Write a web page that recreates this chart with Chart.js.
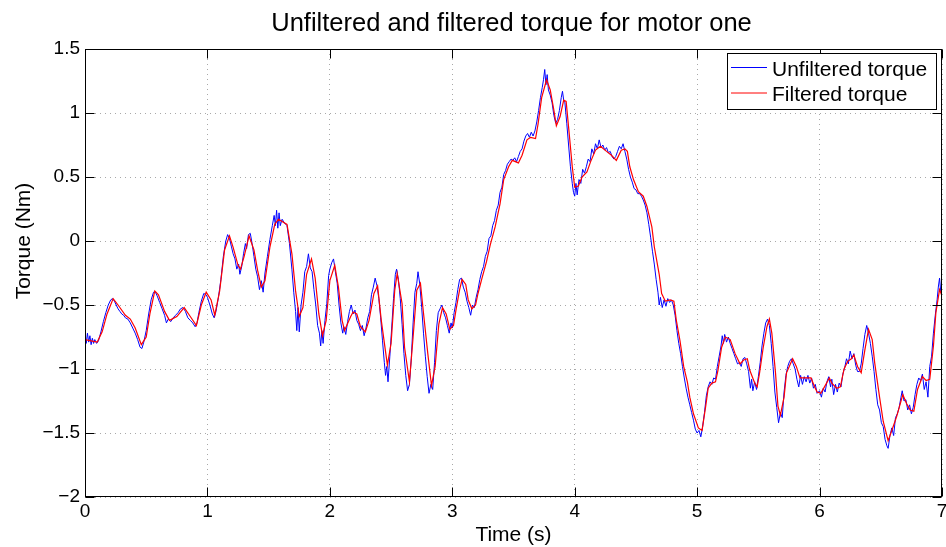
<!DOCTYPE html>
<html>
<head>
<meta charset="utf-8">
<title>Torque, motor one</title>
<script src="https://cdn.jsdelivr.net/npm/chart.js@4.4.1/dist/chart.umd.min.js"></script>
<style>
html, body { margin: 0; padding: 0; background: #fff; }
canvas { display: block; }
</style>
</head>
<body>
<canvas id="chartTorque" width="946" height="547"></canvas>
<script>
const seriesNames = ['Unfiltered torque', 'Filtered torque'];
const xTicks = [0, 1, 2, 3, 4, 5, 6, 7];
const yTicks = [-2, -1.5, -1, -0.5, 0, 0.5, 1, 1.5];

// raw sensor torque (s, Nm), one line per second
const rawTime = [
    0,0.01,0.02,0.03,0.04,0.05,0.06,0.07,0.08,0.095,0.11,0.13,0.15,0.17,0.19,0.21,0.225,0.24,0.255,0.27,0.285,0.30,0.315,0.33,0.35,0.37,0.39,0.41,0.43,0.45,0.465,0.48,0.50,0.52,0.54,0.56,0.575,0.59,0.61,0.63,0.65,0.665,0.68,0.70,0.72,0.74,0.76,0.78,0.80,0.82,0.84,0.86,0.88,0.90,0.915,0.93,0.95,0.97,0.99,
    1.00,1.02,1.04,1.055,1.07,1.09,1.11,1.13,1.15,1.165,1.18,1.195,1.21,1.225,1.24,1.255,1.265,1.28,1.295,1.31,1.32,1.335,1.35,1.365,1.38,1.395,1.41,1.425,1.44,1.455,1.47,1.49,1.51,1.53,1.545,1.555,1.565,1.575,1.585,1.595,1.61,1.63,1.65,1.67,1.69,1.705,1.72,1.73,1.74,1.75,1.765,1.78,1.795,1.81,1.825,1.84,1.855,1.87,1.885,1.90,1.915,1.925,1.935,1.945,1.96,1.975,1.99,
    2.00,2.015,2.03,2.045,2.06,2.075,2.09,2.105,2.115,2.13,2.145,2.16,2.175,2.19,2.205,2.22,2.235,2.25,2.265,2.28,2.295,2.31,2.325,2.34,2.355,2.37,2.385,2.40,2.415,2.43,2.445,2.455,2.465,2.475,2.49,2.505,2.52,2.535,2.545,2.56,2.575,2.59,2.605,2.62,2.635,2.65,2.665,2.68,2.695,2.71,2.72,2.735,2.75,2.765,2.78,2.795,2.81,2.825,2.84,2.855,2.87,2.885,2.90,2.915,2.93,2.945,2.96,2.975,2.99,
    3.00,3.015,3.03,3.045,3.06,3.075,3.09,3.105,3.12,3.135,3.15,3.165,3.18,3.195,3.21,3.225,3.24,3.255,3.27,3.285,3.30,3.315,3.33,3.345,3.36,3.375,3.39,3.405,3.42,3.435,3.45,3.465,3.48,3.495,3.51,3.525,3.54,3.555,3.57,3.585,3.60,3.615,3.63,3.645,3.66,3.675,3.69,3.705,3.72,3.735,3.745,3.755,3.765,3.775,3.785,3.80,3.815,3.83,3.845,3.86,3.875,3.89,3.90,3.91,3.92,3.935,3.95,3.965,3.98,3.99,
    4.00,4.01,4.02,4.035,4.05,4.065,4.08,4.095,4.11,4.125,4.14,4.155,4.17,4.185,4.20,4.215,4.23,4.245,4.26,4.275,4.29,4.305,4.32,4.335,4.35,4.365,4.38,4.395,4.41,4.425,4.44,4.455,4.47,4.485,4.50,4.515,4.53,4.545,4.56,4.575,4.59,4.605,4.62,4.635,4.65,4.665,4.68,4.69,4.70,4.715,4.73,4.745,4.76,4.775,4.79,4.805,4.82,4.835,4.85,4.865,4.88,4.895,4.91,4.925,4.94,4.955,4.97,4.985,
    5.00,5.015,5.03,5.045,5.06,5.075,5.09,5.105,5.12,5.135,5.15,5.165,5.18,5.195,5.205,5.215,5.225,5.24,5.255,5.27,5.285,5.30,5.315,5.33,5.345,5.36,5.375,5.39,5.405,5.42,5.435,5.445,5.455,5.47,5.485,5.50,5.515,5.53,5.545,5.56,5.575,5.59,5.605,5.62,5.635,5.65,5.665,5.68,5.695,5.71,5.725,5.74,5.755,5.77,5.785,5.80,5.815,5.83,5.845,5.86,5.875,5.89,5.905,5.92,5.935,5.95,5.965,5.98,
    6.00,6.015,6.03,6.045,6.06,6.075,6.09,6.10,6.115,6.13,6.145,6.16,6.175,6.19,6.205,6.22,6.235,6.25,6.265,6.28,6.295,6.31,6.325,6.34,6.355,6.37,6.385,6.40,6.415,6.43,6.445,6.46,6.475,6.49,6.505,6.52,6.535,6.55,6.56,6.575,6.59,6.605,6.62,6.635,6.65,6.665,6.675,6.69,6.705,6.72,6.735,6.75,6.765,6.78,6.795,6.81,6.825,6.84,6.855,6.87,6.885,6.90,6.915,6.93,6.945,6.96,6.97,6.98,6.99,7.00
];
const rawTorque = [
    -0.74,-0.80,-0.72,-0.79,-0.74,-0.81,-0.76,-0.80,-0.77,-0.80,-0.78,-0.71,-0.63,-0.56,-0.50,-0.46,-0.45,-0.47,-0.50,-0.53,-0.55,-0.57,-0.58,-0.60,-0.61,-0.64,-0.68,-0.72,-0.77,-0.83,-0.84,-0.79,-0.70,-0.57,-0.46,-0.40,-0.40,-0.43,-0.48,-0.53,-0.58,-0.64,-0.61,-0.63,-0.60,-0.58,-0.56,-0.53,-0.52,-0.55,-0.60,-0.62,-0.64,-0.67,-0.64,-0.56,-0.47,-0.41,-0.42,
    -0.44,-0.50,-0.57,-0.60,-0.55,-0.44,-0.30,-0.12,0.00,0.05,0.02,-0.04,-0.10,-0.14,-0.22,-0.18,-0.26,-0.20,-0.10,-0.02,-0.06,0.05,0.06,-0.02,-0.12,-0.22,-0.28,-0.38,-0.31,-0.40,-0.25,-0.12,0.01,0.12,0.20,0.12,0.24,0.10,0.22,0.12,0.17,0.14,0.12,-0.02,-0.22,-0.40,-0.55,-0.70,-0.52,-0.71,-0.50,-0.40,-0.24,-0.20,-0.10,-0.21,-0.24,-0.38,-0.50,-0.66,-0.72,-0.82,-0.70,-0.80,-0.62,-0.49,-0.27,
    -0.22,-0.17,-0.14,-0.24,-0.33,-0.50,-0.64,-0.72,-0.67,-0.73,-0.63,-0.55,-0.50,-0.57,-0.54,-0.62,-0.65,-0.70,-0.66,-0.74,-0.68,-0.60,-0.55,-0.42,-0.36,-0.29,-0.35,-0.45,-0.60,-0.78,-0.95,-1.05,-0.98,-1.10,-0.90,-0.68,-0.45,-0.26,-0.22,-0.30,-0.45,-0.65,-0.88,-1.05,-1.17,-1.12,-0.92,-0.64,-0.40,-0.33,-0.24,-0.34,-0.52,-0.72,-0.90,-1.06,-1.19,-1.12,-1.16,-0.95,-0.70,-0.56,-0.53,-0.50,-0.56,-0.60,-0.66,-0.72,-0.64,
    -0.68,-0.56,-0.48,-0.38,-0.30,-0.29,-0.36,-0.40,-0.47,-0.52,-0.58,-0.50,-0.52,-0.44,-0.38,-0.30,-0.24,-0.20,-0.12,-0.08,0.02,0.04,0.12,0.16,0.24,0.28,0.38,0.42,0.52,0.55,0.60,0.62,0.64,0.63,0.65,0.62,0.66,0.70,0.72,0.78,0.82,0.84,0.81,0.85,0.82,0.86,0.93,1.02,1.12,1.20,1.26,1.34,1.22,1.30,1.18,1.14,1.08,0.98,0.92,0.95,1.02,1.12,1.17,1.10,1.08,0.92,0.75,0.58,0.45,0.38,
    0.35,0.45,0.36,0.48,0.45,0.56,0.53,0.58,0.64,0.62,0.72,0.68,0.76,0.72,0.79,0.73,0.75,0.71,0.73,0.69,0.70,0.66,0.64,0.66,0.70,0.74,0.72,0.76,0.70,0.64,0.56,0.50,0.46,0.41,0.40,0.37,0.37,0.35,0.32,0.28,0.22,0.13,0.03,-0.08,-0.18,-0.30,-0.40,-0.50,-0.44,-0.52,-0.46,-0.51,-0.45,-0.48,-0.46,-0.50,-0.58,-0.70,-0.80,-0.88,-0.98,-1.07,-1.15,-1.22,-1.28,-1.34,-1.40,-1.47,
    -1.50,-1.48,-1.53,-1.45,-1.34,-1.21,-1.14,-1.10,-1.12,-1.07,-1.08,-0.98,-0.90,-0.82,-0.74,-0.80,-0.73,-0.79,-0.75,-0.80,-0.84,-0.88,-0.92,-0.96,-0.95,-0.98,-0.92,-0.91,-0.96,-1.02,-1.15,-1.08,-1.17,-1.10,-1.16,-1.06,-0.95,-0.82,-0.72,-0.64,-0.61,-0.66,-0.80,-0.98,-1.18,-1.30,-1.42,-1.34,-1.38,-1.18,-1.05,-0.98,-0.94,-0.92,-0.96,-1.00,-1.08,-1.14,-1.05,-1.12,-1.06,-1.10,-1.05,-1.11,-1.07,-1.15,-1.12,-1.19,
    -1.17,-1.22,-1.15,-1.18,-1.10,-1.06,-1.14,-1.08,-1.20,-1.12,-1.18,-1.11,-1.14,-1.04,-0.99,-0.92,-0.96,-0.86,-0.92,-0.88,-0.97,-1.02,-1.02,-0.96,-0.84,-0.73,-0.66,-0.72,-0.80,-0.90,-1.02,-1.16,-1.28,-1.32,-1.42,-1.45,-1.55,-1.60,-1.62,-1.52,-1.46,-1.52,-1.38,-1.35,-1.30,-1.22,-1.17,-1.25,-1.24,-1.32,-1.28,-1.35,-1.30,-1.20,-1.12,-1.07,-1.09,-1.04,-1.16,-1.10,-1.22,-0.98,-0.90,-0.72,-0.58,-0.46,-0.36,-0.29,-0.40,-0.36
];

// low-pass filtered torque (s, Nm)
const filteredTime = [
    0.00,0.05,0.10,0.14,0.18,0.23,0.27,0.33,0.37,0.41,0.46,0.50,0.53,0.57,0.60,0.65,0.69,0.75,0.81,0.86,0.91,0.95,0.99,
    1.03,1.06,1.10,1.14,1.18,1.21,1.25,1.27,1.30,1.34,1.38,1.41,1.44,1.47,1.51,1.55,1.58,1.65,1.69,1.72,1.75,1.78,1.81,1.85,1.88,1.91,1.94,1.97,
    2.00,2.04,2.07,2.10,2.12,2.17,2.19,2.22,2.25,2.29,2.32,2.36,2.39,2.42,2.47,2.50,2.53,2.55,2.59,2.61,2.65,2.68,2.71,2.74,2.76,2.80,2.83,2.86,2.89,2.92,2.95,2.98,
    3.01,3.03,3.06,3.08,3.11,3.13,3.16,3.19,3.21,3.24,3.28,3.31,3.35,3.39,3.42,3.46,3.49,3.54,3.57,3.61,3.64,3.68,3.70,3.73,3.77,3.80,3.83,3.85,3.88,3.91,3.93,3.95,3.98,
    4.00,4.03,4.06,4.10,4.13,4.17,4.21,4.26,4.30,4.34,4.38,4.41,4.43,4.45,4.48,4.52,4.56,4.59,4.63,4.65,4.69,4.71,4.74,4.78,4.81,4.83,4.86,4.89,4.92,4.94,4.97,
    5.01,5.04,5.07,5.09,5.12,5.15,5.17,5.20,5.23,5.27,5.31,5.35,5.38,5.41,5.43,5.47,5.49,5.51,5.54,5.57,5.59,5.61,5.64,5.66,5.68,5.71,5.73,5.78,5.81,5.84,5.88,5.93,5.96,5.98,
    6.01,6.04,6.08,6.10,6.14,6.17,6.20,6.23,6.26,6.28,6.31,6.34,6.37,6.40,6.43,6.45,6.49,6.52,6.56,6.59,6.63,6.68,6.71,6.74,6.77,6.80,6.84,6.87,6.90,6.93,6.95,6.98,7.00
];
const filteredTorque = [
    -0.77,-0.78,-0.79,-0.71,-0.57,-0.45,-0.50,-0.58,-0.61,-0.68,-0.81,-0.75,-0.57,-0.39,-0.42,-0.55,-0.62,-0.59,-0.52,-0.59,-0.66,-0.50,-0.40,
    -0.46,-0.58,-0.39,-0.07,0.04,-0.05,-0.19,-0.22,-0.12,0.04,-0.07,-0.23,-0.36,-0.31,-0.05,0.13,0.17,0.13,-0.10,-0.39,-0.59,-0.52,-0.26,-0.14,-0.29,-0.57,-0.74,-0.62,
    -0.31,-0.19,-0.36,-0.62,-0.70,-0.59,-0.555,-0.57,-0.67,-0.71,-0.62,-0.41,-0.35,-0.62,-0.97,-0.80,-0.385,-0.255,-0.49,-0.83,-1.10,-0.75,-0.385,-0.33,-0.52,-0.88,-1.13,-0.98,-0.65,-0.52,-0.57,-0.69,
    -0.66,-0.54,-0.38,-0.30,-0.34,-0.46,-0.53,-0.50,-0.41,-0.30,-0.16,-0.03,0.11,0.29,0.48,0.58,0.63,0.61,0.67,0.79,0.81,0.80,0.91,1.12,1.26,1.18,1.02,0.90,0.97,1.10,1.09,0.89,0.58,
    0.42,0.43,0.50,0.54,0.62,0.71,0.74,0.70,0.67,0.63,0.71,0.72,0.70,0.58,0.48,0.385,0.35,0.27,0.11,-0.045,-0.26,-0.41,-0.47,-0.46,-0.47,-0.62,-0.78,-0.98,-1.10,-1.22,-1.35,
    -1.46,-1.48,-1.29,-1.15,-1.11,-1.10,-1.01,-0.83,-0.75,-0.77,-0.88,-0.96,-0.93,-0.92,-1.01,-1.11,-1.14,-1.03,-0.83,-0.67,-0.61,-0.72,-1.03,-1.29,-1.36,-1.22,-1.03,-0.92,-0.98,-1.07,-1.07,-1.07,-1.14,-1.18,
    -1.19,-1.14,-1.07,-1.11,-1.15,-1.14,-1.00,-0.94,-0.92,-0.89,-0.98,-1.03,-0.85,-0.69,-0.77,-0.95,-1.22,-1.41,-1.56,-1.48,-1.37,-1.20,-1.27,-1.32,-1.33,-1.16,-1.06,-1.09,-1.08,-0.82,-0.56,-0.38,-0.43
];

const FONT = "'Liberation Sans', Arial, Helvetica, sans-serif";
const TICK_LEN = 9;

function toPoints(xs, ys) {
    return xs.map((x, i) => ({ x: x, y: ys[i] }));
}

function minusSign(v) {
    return v < 0 ? '\u2212' + Math.abs(v) : String(v);
}

// box, inward tick marks, legend and labels drawn on top of the plot
const matlabAxes = {
    id: 'matlabAxes',
    afterDraw(chart) {
        const c = chart.ctx;
        const a = chart.chartArea;
        const xs = chart.scales.x, ys = chart.scales.y;
        const L = Math.round(a.left) + 0.5, R = Math.round(a.right) - 0.5;
        const T = Math.round(a.top) + 0.5, B = Math.round(a.bottom) - 0.5;
        c.save();
        c.strokeStyle = '#000';
        c.lineWidth = 1;
        c.beginPath();
        xTicks.forEach(v => {
            const px = Math.round(xs.getPixelForValue(v)) + 0.5;
            c.moveTo(px, B); c.lineTo(px, B - TICK_LEN);
            c.moveTo(px, T); c.lineTo(px, T + TICK_LEN);
        });
        yTicks.forEach(v => {
            const py = Math.round(ys.getPixelForValue(v)) + 0.5;
            c.moveTo(L, py); c.lineTo(L + TICK_LEN, py);
            c.moveTo(R, py); c.lineTo(R - TICK_LEN, py);
        });
        c.stroke();
        c.strokeRect(L, T, R - L, B - T);

        // legend
        const lx = 727.5, ly = 53.5, lw = 209, lh = 56;
        c.fillStyle = '#fff';
        c.fillRect(lx, ly, lw, lh);
        c.strokeRect(lx, ly, lw, lh);
        const colors = ['#0000ff', '#ff0000'];
        c.font = '21px ' + FONT;
        c.textAlign = 'left';
        c.textBaseline = 'alphabetic';
        seriesNames.forEach((name, i) => {
            const rowY = 67.5 + i * 25.5;
            c.strokeStyle = colors[i];
            c.beginPath();
            c.moveTo(731, rowY); c.lineTo(767, rowY);
            c.stroke();
            c.fillStyle = '#000';
            c.fillText(name, 772, rowY + 8);
        });

        // title and axis labels
        c.fillStyle = '#000';
        c.textAlign = 'center';
        c.font = '25.5px ' + FONT;
        c.fillText('Unfiltered and filtered torque for motor one', (a.left + a.right) / 2 - 2, 31);
        c.font = '21px ' + FONT;
        c.fillText('Time (s)', (a.left + a.right) / 2, 541);
        c.translate(30, 241);
        c.rotate(-Math.PI / 2);
        c.fillText('Torque (Nm)', 0, 0);
        c.restore();
    }
};

const ctxTorque = document.getElementById('chartTorque').getContext('2d');
const chartTorque = new Chart(ctxTorque, {
    type: 'line',
    data: {
        datasets: [{
            label: seriesNames[0],
            data: toPoints(rawTime, rawTorque),
            borderColor: '#0000ff',
            borderWidth: 1,
            pointRadius: 0,
            fill: false,
            order: 2
        },
        {
            label: seriesNames[1],
            data: toPoints(filteredTime, filteredTorque),
            borderColor: '#ff0000',
            borderWidth: 1.2,
            pointRadius: 0,
            fill: false,
            order: 1
        }]
    },
    options: {
        responsive: false,
        animation: false,
        events: [],
        layout: { padding: { top: 49, right: 4, left: 0, bottom: 0 } },
        plugins: {
            legend: { display: false },
            title: { display: false },
            tooltip: { enabled: false }
        },
        scales: {
            x: {
                type: 'linear',
                min: 0,
                max: 7,
                afterBuildTicks: s => { s.ticks = xTicks.map(v => ({ value: v })); },
                afterFit: s => {
                    s.height = 50;
                    // let the last label hang over the right edge
                    s.paddingLeft = 0;
                    s.paddingRight = 0;
                },
                ticks: {
                    font: { family: FONT, size: 19 },
                    color: '#000',
                    padding: 3,
                    maxRotation: 0,
                    autoSkip: false,
                    callback: v => minusSign(v)
                },
                grid: { color: '#a8a8a8', lineWidth: 1, drawTicks: false },
                border: { display: false, dash: [1, 4] }
            },
            y: {
                min: -2,
                max: 1.5,
                afterBuildTicks: s => { s.ticks = yTicks.map(v => ({ value: v })); },
                afterFit: s => { s.width = 85; },
                ticks: {
                    font: { family: FONT, size: 19 },
                    color: '#000',
                    padding: 5,
                    autoSkip: false,
                    callback: v => minusSign(v)
                },
                grid: { color: '#a8a8a8', lineWidth: 1, drawTicks: false },
                border: { display: false, dash: [1, 4] }
            }
        }
    },
    plugins: [matlabAxes]
});
</script>
</body>
</html>
